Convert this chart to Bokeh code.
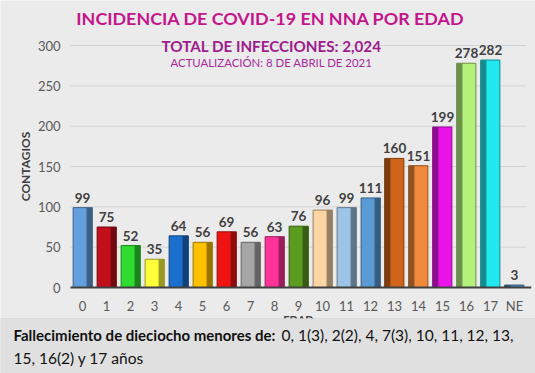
import math
from bokeh.plotting import figure
from bokeh.models import ColumnDataSource, Range1d, Label, BoxAnnotation
from bokeh.core.properties import value
from bokeh.embed import file_html
from bokeh.resources import INLINE

# ---------------- data ----------------
edades = ["0", "1", "2", "3", "4", "5", "6", "7", "8", "9", "10", "11", "12",
          "13", "14", "15", "16", "17", "NE"]
contagios = [99, 75, 52, 35, 64, 56, 69, 56, 63, 76, 96, 99, 111,
             160, 151, 199, 278, 282, 3]
colores = ["#639fdf", "#c1101c", "#2fdc2f", "#ffff3a", "#1b6fcc", "#ffc000",
           "#ee1414", "#a6a6a6", "#ff3399", "#5b9b20", "#fcd5a5", "#9dc3e6",
           "#5b9bd5", "#d0641a", "#f08a3a", "#ea14ea", "#b4f07c", "#22e8f0",
           "#4a86c6"]
y_ticks = [0, 50, 100, 150, 200, 250, 300]
titulo = "INCIDENCIA DE COVID-19 EN NNA POR EDAD"
subtitulo = "TOTAL DE INFECCIONES: 2,024"
actualizacion = "ACTUALIZACIÓN: 8 DE ABRIL DE 2021"
eje_y = "CONTAGIOS"
eje_x = "EDAD"
nota_bold = "Fallecimiento de dieciocho menores de:"
nota_1 = "0, 1(3), 2(2), 4, 7(3), 10, 11, 12, 13,"
nota_2 = "15, 16(2) y 17 años"


def darker(hexc, f=0.6):
    h = hexc.lstrip("#")
    r, g, b = (int(h[i:i + 2], 16) for i in (0, 2, 4))
    return "#%02x%02x%02x" % (int(r * f), int(g * f), int(b * f))


FONT = "Lato"
W, H = 535, 373
n = len(edades)
idx = list(range(n))

# scale: one category = 24 px, first category at 82 px; 0 at 287 px, 300 at 45 px
px_cat = 24.0
px_val = (287 - 45) / 300.0
x0_px, y0_px = 82.0, 287.0
x_range = Range1d(-x0_px / px_cat, (W - x0_px) / px_cat)
y_range = Range1d(-(H - y0_px) / px_val, y0_px / px_val)

# 3D-ish side face: on the right for young ages, on the left for older ones
side_sign = [1 if i <= 12 else -1 for i in idx]
front_x = [i - 0.1 * s for i, s in zip(idx, side_sign)]
side_x = [i + 0.3 * s for i, s in zip(idx, side_sign)]

src = ColumnDataSource(dict(
    x=idx, fx=front_x, sx=side_x, top=contagios, zero=[0] * n,
    color=colores, dark=[darker(c) for c in colores],
    label=[str(v) for v in contagios], cat=edades,
))

p = figure(width=W, height=H, x_range=x_range, y_range=y_range,
           output_backend="svg", toolbar_location=None, min_border=0)
p.axis.visible = False
p.grid.visible = False
p.border_fill_color = "#e6e6e6"
p.background_fill_color = "#ebebeb"
p.outline_line_color = None

# grid lines
p.segment(x0=[-0.5] * len(y_ticks), x1=[n - 0.5] * len(y_ticks),
          y0=y_ticks, y1=y_ticks, line_color="#d4d4d4", line_width=1)

# bars
p.vbar(x="sx", top="top", width=0.22, source=src, fill_color="dark",
       line_color="dark", line_width=1)
p.vbar(x="fx", top="top", width=0.58, source=src, fill_color="color",
       line_color="dark", line_width=1)

# x axis line
p.segment(x0=[-0.5], x1=[n - 0.3], y0=[0], y1=[0], line_color="#404040",
          line_width=2)

# value labels
p.text(x="x", y="top", text="label", source=src, text_align="center",
       text_baseline="bottom", y_offset=-5, text_font=value(FONT),
       text_font_style="bold", text_font_size="13.5px", text_color="#404040")

# x tick labels
p.text(x="x", y="zero", text="cat", source=src, text_align="center",
       text_baseline="middle", y_offset=18, text_font=value(FONT),
       text_font_size="13px", text_color="#595959")
# y tick labels
p.text(x=[-0.5] * len(y_ticks), y=y_ticks, text=[str(t) for t in y_ticks],
       text_align="right", text_baseline="middle", x_offset=-10,
       text_font=value(FONT), text_font_size="13px", text_color="#595959")
# axis titles
p.text(x=[-0.5], y=[(y_ticks[0] + y_ticks[-1]) / 2], text=[eje_y],
       angle=math.pi / 2, text_align="center", text_baseline="middle",
       x_offset=-45, text_font=value(FONT), text_font_style="bold",
       text_font_size="12px", text_color="#404040")
p.text(x=[(n - 1) / 2], y=[0], text=[eje_x], text_align="center",
       text_baseline="middle", y_offset=32, text_font=value(FONT),
       text_font_style="bold", text_font_size="11px", text_color="#404040")

# caption band (covers the lower part of the x axis title like the original)
p.add_layout(BoxAnnotation(top=-(318 - y0_px) / px_val, fill_color="#e0e0e0",
                           fill_alpha=1.0, line_color="#c6c6c6",
                           line_width=1, level="annotation"))

# titles (canvas pixels)
p.add_layout(Label(x=270, y=17, x_units="canvas", y_units="canvas",
                   text=titulo, text_align="center", text_baseline="middle",
                   text_font=FONT, text_font_style="bold",
                   text_font_size="17.9px", text_color="#c4168c"))
p.add_layout(Label(x=271, y=45, x_units="canvas", y_units="canvas",
                   text=subtitulo, text_align="center", text_baseline="middle",
                   text_font=FONT, text_font_style="bold",
                   text_font_size="15.2px", text_color="#9e1c8e"))
p.add_layout(Label(x=271, y=62, x_units="canvas", y_units="canvas",
                   text=actualizacion, text_align="center",
                   text_baseline="middle", text_font=FONT,
                   text_font_size="11.4px", text_color="#a8289a"))

# caption (canvas pixels)
p.add_layout(Label(x=13, y=334, x_units="canvas", y_units="canvas",
                   text=nota_bold, text_baseline="middle", text_font=FONT,
                   text_font_style="bold", text_font_size="15px",
                   text_color="#111111"))
p.add_layout(Label(x=281, y=334, x_units="canvas", y_units="canvas",
                   text=nota_1, text_baseline="middle", text_font=FONT,
                   text_font_size="15.5px", text_color="#111111"))
p.add_layout(Label(x=13, y=357, x_units="canvas", y_units="canvas",
                   text=nota_2, text_baseline="middle", text_font=FONT,
                   text_font_size="15.5px", text_color="#111111"))

open("out.html", "w").write(file_html(p, INLINE))
